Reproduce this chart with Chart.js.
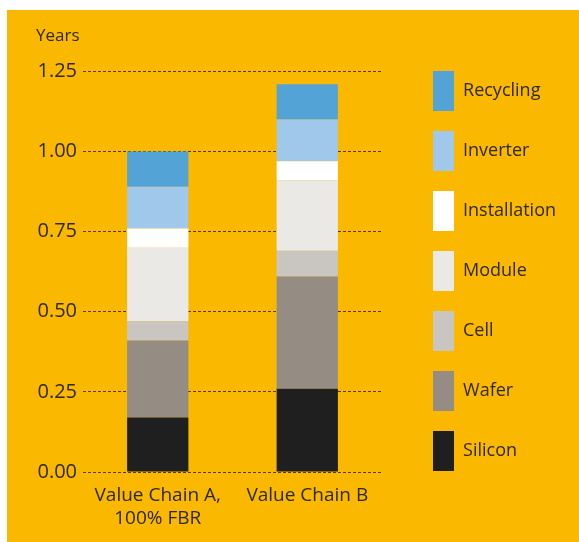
<!DOCTYPE html>
<html>
<head>
<meta charset="utf-8">
<script src="https://cdn.jsdelivr.net/npm/chart.js@4/dist/chart.umd.min.js"></script>
<style>
  html, body { margin: 0; padding: 0; background: #ffffff; }
  #chart-box { width: 579px; height: 542px; }
</style>
</head>
<body>
<div id="chart-box"><canvas id="chart" width="579" height="542"></canvas></div>
<script>
// === DATA ===
const categories = [['Value Chain A,', '100% FBR'], 'Value Chain B'];
const yTicks = [0, 0.25, 0.5, 0.75, 1.0, 1.25];

// stack parts, bottom to top (years)
const silicon      = [0.17, 0.26];
const wafer        = [0.24, 0.35];
const cell         = [0.06, 0.08];
const moduleVals   = [0.23, 0.22];
const installation = [0.06, 0.06];
const inverter     = [0.13, 0.13];
const recycling    = [0.11, 0.11];

const seriesNames  = ['Silicon', 'Wafer', 'Cell', 'Module', 'Installation', 'Inverter', 'Recycling'];
const seriesData   = [silicon, wafer, cell, moduleVals, installation, inverter, recycling];
const seriesColors = ['#1f1f1f', '#958d84', '#c9c6c1', '#eae9e5', '#ffffff', '#a0c8ea', '#53a3d6'];

const textColor = '#2e2a17';
const orange = '#fab800';

// orange panel behind everything (white margin top/left like the original)
const panelBg = {
    id: 'panelBg',
    beforeDraw(chart) {
        const ctx = chart.ctx;
        ctx.save();
        ctx.fillStyle = orange;
        ctx.fillRect(7, 10, chart.width - 7, chart.height - 10);
        ctx.restore();
    }
};

const datasets = seriesNames.map((name, i) => ({
    label: name,
    data: seriesData[i],
    backgroundColor: seriesColors[i],
    borderWidth: 0,
    barPercentage: 1,
    categoryPercentage: 0.41
}));

new Chart(document.getElementById('chart'), {
    type: 'bar',
    data: { labels: categories, datasets: datasets },
    plugins: [panelBg],
    options: {
        responsive: false,
        animation: false,
        layout: { padding: { left: 36, top: 10, right: 13, bottom: 10 } },
        plugins: {
            title: {
                display: true,
                text: 'Years',
                align: 'start',
                color: textColor,
                font: { family: 'Open Sans', size: 17, weight: 'normal' },
                padding: { top: 16, bottom: 25 }
            },
            legend: {
                position: 'right',
                align: 'center',
                reverse: true,
                maxWidth: 200,
                labels: {
                    boxWidth: 21,
                    boxHeight: 40,
                    padding: 20,
                    color: textColor,
                    font: { family: 'Open Sans', size: 18 }
                }
            },
            tooltip: { enabled: false }
        },
        scales: {
            x: {
                stacked: true,
                grid: { display: false },
                border: { display: false },
                ticks: {
                    color: textColor,
                    padding: 4,
                    font: { family: 'Open Sans', size: 19 }
                },
                afterFit: (scale) => { scale.height = 60; }
            },
            y: {
                stacked: true,
                min: 0,
                max: 1.25,
                afterBuildTicks: (scale) => { scale.ticks = yTicks.map(v => ({ value: v })); },
                grid: { color: '#4a3f16', lineWidth: 1, drawTicks: false },
                border: { display: false, dash: [3, 2] },
                ticks: {
                    color: textColor,
                    padding: 6,
                    font: { family: 'Open Sans', size: 20 },
                    callback: (v) => v.toFixed(2)
                },
                afterFit: (scale) => { scale.width = 47; }
            },
            // empty spacer between plot and legend
            gap: {
                type: 'linear',
                position: 'right',
                display: true,
                grid: { display: false },
                border: { display: false },
                ticks: { display: false },
                afterFit: (scale) => { scale.width = 31; }
            }
        }
    }
});
</script>
</body>
</html>
